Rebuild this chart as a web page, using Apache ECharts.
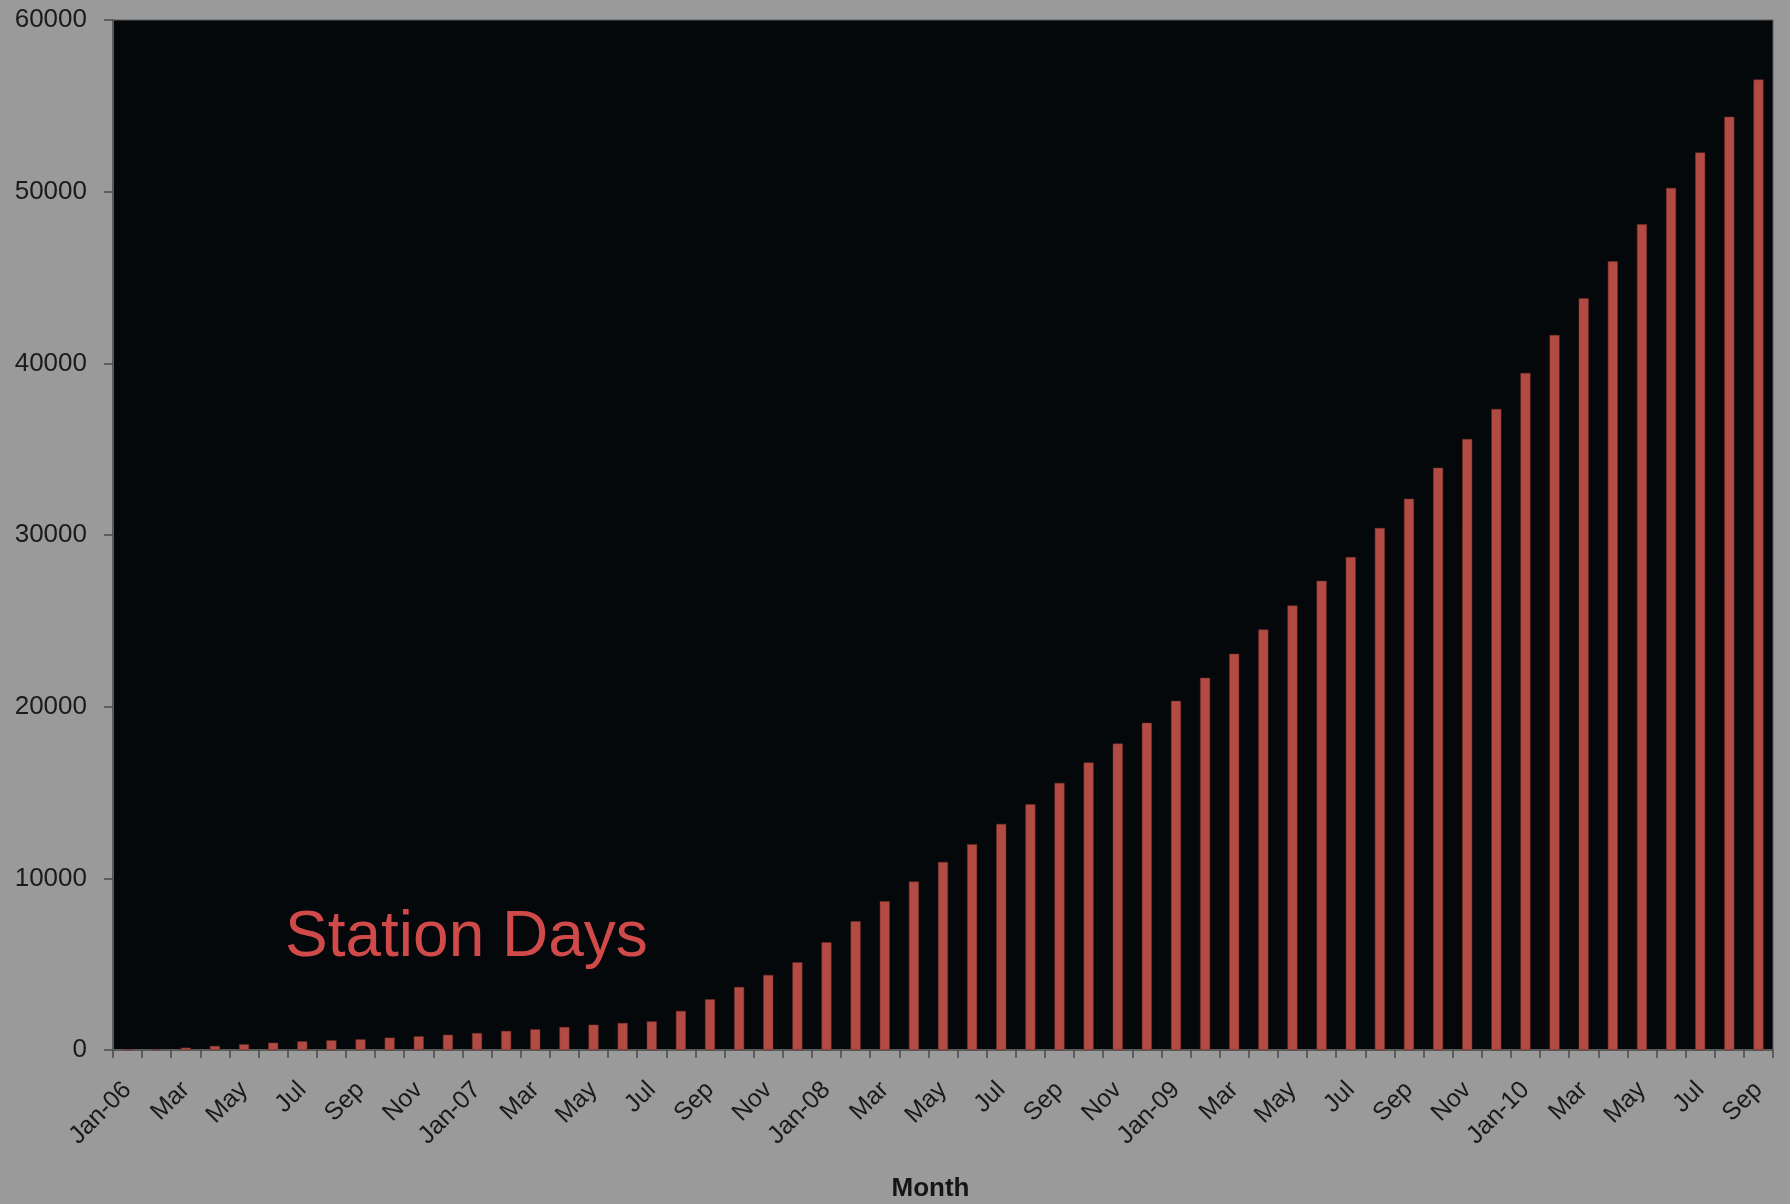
<!DOCTYPE html>
<html>
<head>
<meta charset="utf-8">
<title>Station Days</title>
<script src="https://cdn.jsdelivr.net/npm/echarts@6/dist/echarts.min.js"></script>
<style>
  html, body { margin: 0; padding: 0; background: #9a9a9a; }
  #chart { width: 1790px; height: 1204px; }
</style>
</head>
<body>
<div id="chart"></div>
<script>
// Monthly categories, Jan 2006 – Sep 2010
const months = [
  'Jan-06','Feb','Mar','Apr','May','Jun','Jul','Aug','Sep','Oct','Nov','Dec',
  'Jan-07','Feb','Mar','Apr','May','Jun','Jul','Aug','Sep','Oct','Nov','Dec',
  'Jan-08','Feb','Mar','Apr','May','Jun','Jul','Aug','Sep','Oct','Nov','Dec',
  'Jan-09','Feb','Mar','Apr','May','Jun','Jul','Aug','Sep','Oct','Nov','Dec',
  'Jan-10','Feb','Mar','Apr','May','Jun','Jul','Aug','Sep'
];

// Cumulative station days per month
const stationDays2006 = [20, 50, 135, 235, 330, 425, 505, 565, 620, 720, 800, 890];
const stationDays2007 = [990, 1110, 1205, 1340, 1475, 1575, 1665, 2275, 2955, 3670, 4370, 5110];
const stationDays2008 = [6275, 7500, 8665, 9810, 10955, 11990, 13170, 14320, 15560, 16745, 17850, 19060];
const stationDays2009 = [20340, 21680, 23080, 24495, 25895, 27330, 28715, 30405, 32110, 33920, 35590, 37340];
const stationDays2010 = [39440, 41650, 43790, 45945, 48100, 50220, 52280, 54360, 56530];

// Value-axis ticks
const yTicks = { min: 0, max: 60000, step: 10000 };

const stationDays = [].concat(stationDays2006, stationDays2007, stationDays2008, stationDays2009, stationDays2010);

const chart = echarts.init(document.getElementById('chart'), null, { renderer: 'canvas' });

const labelFont = '"Liberation Sans", Arial, Helvetica, sans-serif';

chart.setOption({
  backgroundColor: '#9a9a9a',
  animation: false,
  grid: {
    left: 113,
    right: 17,
    top: 20,
    bottom: 154,
    outerBoundsMode: 'none',
    containLabel: false,
    show: true,
    backgroundColor: '#05080b',
    borderColor: '#5a5a5a',
    borderWidth: 1
  },
  xAxis: {
    type: 'category',
    data: months,
    boundaryGap: true,
    name: 'Month',
    nameLocation: 'middle',
    nameGap: 126,
    nameTextStyle: {
      fontFamily: labelFont,
      fontSize: 26,
      fontWeight: 'bold',
      color: '#151515',
      padding: [0, 25, 0, 0]
    },
    axisLine: { show: true, lineStyle: { color: '#5a5a5a', width: 2 } },
    axisTick: { show: true, interval: 0, length: 8, lineStyle: { color: '#4a4a4a', width: 1.5 } },
    axisLabel: {
      interval: 1,
      rotate: 45,
      margin: 36,
      fontFamily: labelFont,
      fontSize: 25,
      color: '#1a1a1a'
    },
    splitLine: { show: false }
  },
  yAxis: {
    type: 'value',
    min: yTicks.min,
    max: yTicks.max,
    interval: yTicks.step,
    axisLine: { show: true, lineStyle: { color: '#5a5a5a', width: 2 } },
    axisTick: { show: true, length: 9, lineStyle: { color: '#4a4a4a', width: 1.5 } },
    axisLabel: {
      margin: 26,
      fontFamily: labelFont,
      fontSize: 26,
      color: '#1a1a1a',
      formatter: function (v) { return String(v); }
    },
    splitLine: { show: false }
  },
  series: [{
    name: 'Station Days',
    type: 'bar',
    data: stationDays,
    barWidth: 10,
    itemStyle: {
      color: '#b24b43',
      borderColor: '#7a2e28',
      borderWidth: 0.5
    }
  }],
  graphic: [{
    type: 'text',
    left: 285,
    top: 906,
    style: {
      text: 'Station Days',
      fontFamily: labelFont,
      fontSize: 64,
      fill: '#d04a4a'
    }
  }]
});
</script>
</body>
</html>
